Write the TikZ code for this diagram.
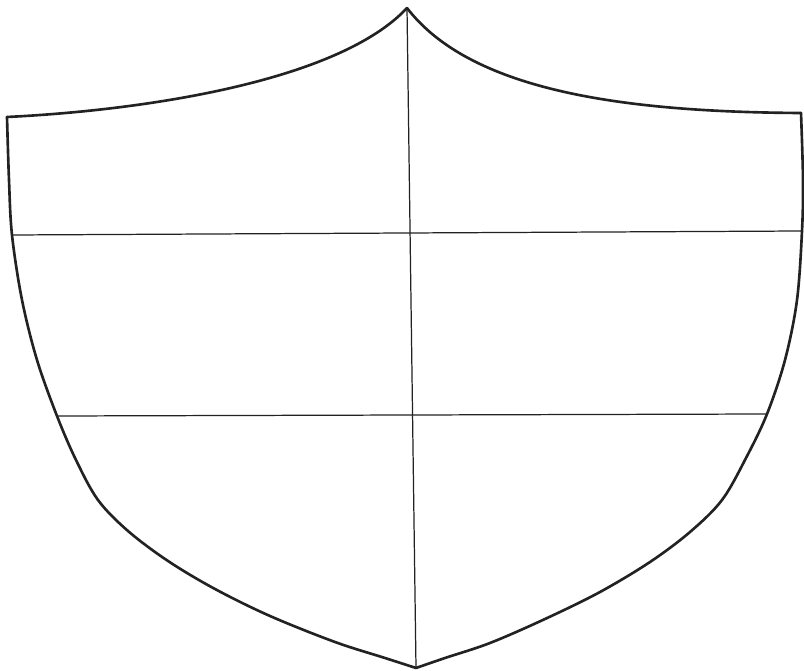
\documentclass[tikz,border=0pt]{standalone}
\usepackage{tikz}
\definecolor{pencil}{HTML}{222222}

\begin{document}
\begin{tikzpicture}[x=0.02cm, y=-0.02cm, line join=round, line cap=round]
\tikzset{outline/.style={draw=pencil, line width=1.5pt}, divider/.style={draw=pencil, line width=0.7pt}}
\useasboundingbox (0,0) rectangle (804,671);
% key points of the shield
\coordinate (top) at (407,8);
\coordinate (bot) at (416,668);
\coordinate (tl) at (7,117);
\coordinate (tr) at (801,113);
\coordinate (l1) at (12,235);
\coordinate (r1) at (802,231);
\coordinate (l2) at (57,416);
\coordinate (r2) at (767,414);
% outline
\draw[outline] (top) .. controls (340,80) and (150,110) .. (tl);
\draw[outline] (top) .. controls (470,90) and (620,112) .. (tr);
\draw[outline] plot[smooth, tension=0.55] coordinates {(7,117) (9,180) (12,235) (22,300) (37,360) (57,416) (76,460) (98,500) (128,531) (168,561) (215,589) (270,616) (335,642) (385,658) (416,668)};
\draw[outline] plot[smooth, tension=0.55] coordinates {(801,113) (803,180) (802,231) (797,300) (785,360) (767,414) (746,458) (722,500) (690,532) (650,562) (600,592) (545,619) (490,643) (445,658) (416,668)};
% dividers
\draw[divider] (top) -- (bot);
\draw[divider] (l1) -- (r1);
\draw[divider] (l2) -- (r2);
\end{tikzpicture}
\end{document}
